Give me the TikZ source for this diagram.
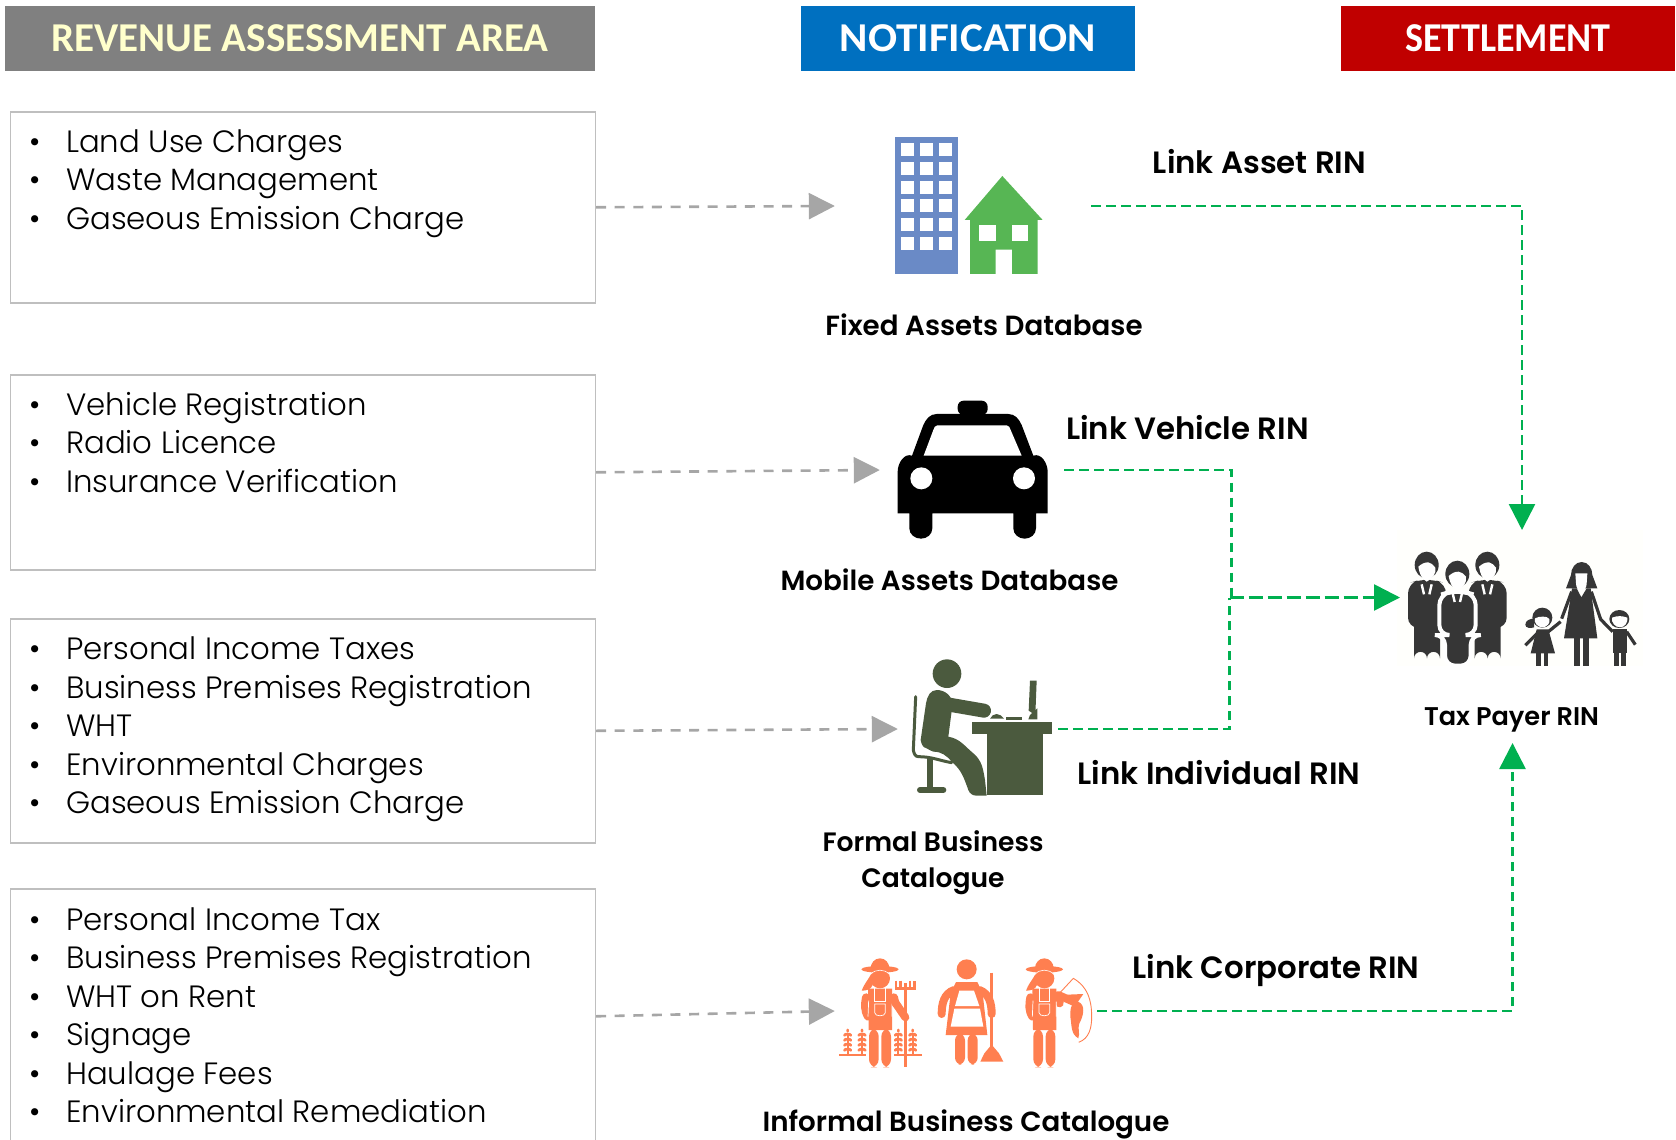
\documentclass[tikz,border=0pt]{standalone}
\usepackage{fontspec}
\setmainfont{Poppins}[UprightFont=* Light,BoldFont=* SemiBold]
\newfontfamily\headfont{Carlito}[BoldFont=* Bold]
\usetikzlibrary{arrows.meta}
\definecolor{hdgray}{HTML}{808080}
\definecolor{hdblue}{HTML}{0070C0}
\definecolor{hdred}{HTML}{C00000}
\definecolor{hdtext}{HTML}{FFFFCC}
\definecolor{boxline}{HTML}{BFBFBF}
\definecolor{arrgray}{HTML}{A6A6A6}
\definecolor{arrgreen}{HTML}{00B050}
\definecolor{towerblue}{HTML}{6A8AC6}
\definecolor{housegreen}{HTML}{57B654}
\definecolor{deskgreen}{HTML}{4B5A3E}
\definecolor{workorange}{HTML}{FF7F50}
\definecolor{peopledark}{HTML}{363636}
\newcommand{\itm}[1]{\makebox[37pt][l]{•}#1}
\tikzset{
  header/.style={minimum height=65pt,inner sep=0pt,font=\headfont\bfseries\fontsize{41}{43}\selectfont},
  listbox/.style={draw=boxline,line width=1.6pt,fill=white,anchor=north west,inner sep=0pt},
  listtext/.style={anchor=north west,inner sep=0pt,align=left,font=\fontsize{30.8}{38.5}\selectfont},
  boldlabel/.style={inner sep=0pt,align=center,font=\bfseries\fontsize{27.7}{36}\selectfont},
  linklabel/.style={inner sep=0pt,font=\bfseries\fontsize{30.8}{32}\selectfont},
  grayflow/.style={draw=arrgray,line width=2.6pt,dash pattern=on 10pt off 8.6pt,-{Triangle[length=26pt,width=26pt,fill=arrgray]}},
  greenline/.style={draw=arrgreen,line width=2.6pt,dash pattern=on 9.5pt off 5.5pt},
  greenflow/.style={greenline,-{Triangle[length=26pt,width=26pt,fill=arrgreen]}},
  icon/.style={inner sep=0pt,minimum size=1pt},
  man/.pic={
    \fill[peopledark] (0,0) ellipse[x radius=36,y radius=40];
    \fill[peopledark,rounded corners=10] (-56,55) -- (-20,44) -- (20,44) -- (58,55) -- (58,188) -- (-56,188) -- cycle;
    \fill[peopledark] (-38,180) -- (40,180) -- (40,280) arc[start angle=0,end angle=-180,radius=19.5] -- (1,280) arc[start angle=0,end angle=-180,radius=19.5] -- cycle;
    \fill[white] (-25,5) to[out=40,in=180] (5,-8) to[out=0,in=140] (26,8) to[out=-80,in=30] (0,50) to[out=150,in=-80] cycle;
    \draw[white,line width=2.4pt] (-15,58) -- (-8,88) (15,58) -- (8,88);
  },
  farmerbody/.pic={
    \fill[workorange] (0,988) ellipse[x radius=56,y radius=10];
    \fill[workorange] (-28,985) to[out=90,in=180] (0,955) to[out=0,in=90] (28,985) -- cycle;
    \fill[workorange] (0,1015) circle[radius=30];
    \draw[white,line width=.6pt] (-28,1003) to[out=50,in=130] (28,1003);
    \fill[workorange] (-28,1005) to[out=-120,in=70] (-55,1052) to[out=0,in=-110] (-22,1035) -- cycle;
    \draw[workorange,line width=8pt,line cap=round] (-42,1072) to[out=-100,in=120] (-36,1130);
    \draw[workorange,line width=8pt,line cap=round] (42,1072) -- (46,1090);
    \fill[workorange] (-36,1046) -- (36,1046) -- (36,1170) -- (-34,1170) -- cycle;
    \draw[white,line width=.7pt] (-34,1082) -- (-36,1130) (36,1085) -- (36,1130);
    \fill[workorange,rounded corners=8] (-33,1165) rectangle (-4,1282);
    \fill[workorange,rounded corners=8] (4,1165) rectangle (33,1282);
    \draw[white,line width=.7pt] (-16,1042) -- (-16,1085) -- (16,1085) -- (16,1042);
    \draw[white,line width=.7pt] (-16,1092) -- (-16,1118) to[out=-90,in=-90] (16,1118) -- (16,1092) -- cycle;
  },
  wheat/.pic={
    \draw[workorange,line width=2.2pt] (0,1245) -- (0,1180);
    \foreach \yy in {1184,1199,1214,1229}{
      \fill[workorange,rotate around={35:(-7,\yy)}] (-7,\yy) ellipse[x radius=7,y radius=4.6];
      \fill[workorange,rotate around={-35:(7,\yy)}] (7,\yy) ellipse[x radius=7,y radius=4.6];
    }
    \fill[workorange] (0,1172) ellipse[x radius=4,y radius=6];
  }
}
\begin{document}
\begin{tikzpicture}[x=1pt,y=-1pt]
\useasboundingbox (0,0) rectangle (1676,1140);
\clip (0,0) rectangle (1676,1140);

% headers
\node[header,fill=hdgray,text=hdtext,minimum width=590pt] (hd1) at (300,38.5) {REVENUE ASSESSMENT AREA};
\node[header,fill=hdblue,text=white,minimum width=334pt] (hd2) at (968,38.5) {\scalebox{1.05}[1]{NOTIFICATION}};
\node[header,fill=hdred,text=white,minimum width=334pt] (hd3) at (1508,38.5) {\scalebox{.93}[1]{SETTLEMENT}};

% boxes
\node[listbox,minimum width=585pt,minimum height=191pt] (box1) at (9.5,111) {};
\node[listbox,minimum width=585pt,minimum height=195pt] (box2) at (9.5,374) {};
\node[listbox,minimum width=585pt,minimum height=224pt] (box3) at (9.5,618) {};
\node[listbox,minimum width=585pt,minimum height=255pt] (box4) at (9.5,888) {};

\node[listtext] (list1) at (29,129.5) {\itm{Land Use Charges}\\\itm{Waste Management}\\\itm{Gaseous Emission Charge}};
\node[listtext] (list2) at (29,392) {\itm{Vehicle Registration}\\\itm{Radio Licence}\\\itm{Insurance Verification}};
\node[listtext] (list3) at (29,636.5) {\itm{Personal Income Taxes}\\\itm{Business Premises  Registration}\\\itm{WHT}\\\itm{Environmental Charges}\\\itm{Gaseous Emission Charge}};
\node[listtext] (list4) at (29,907) {\itm{Personal Income Tax}\\\itm{Business Premises  Registration}\\\itm{WHT on Rent}\\\itm{Signage}\\\itm{Haulage Fees}\\\itm{Environmental Remediation}};

% icon extents (connector anchors)
\node[icon,minimum width=256pt,minimum height=150pt] (fixedicon) at (963,206) {};
\node[icon,minimum width=184pt,minimum height=150pt] (caricon) at (972,470) {};
\node[icon,minimum width=160pt,minimum height=150pt] (deskicon) at (978,729) {};
\node[icon,minimum width=262pt,minimum height=120pt] (workicon) at (966,1011) {};
\coordinate (tpleft) at (1400,597.5);
\coordinate (tptop) at (1522,530);
\coordinate (tpbottom) at (1512.5,743);
\coordinate (joinA) at (1231.5,597.5);
\coordinate (joinB) at (1229.5,597.5);

% tower and house
\begin{scope}[shift={(820,110)},x=1/3*1pt,y=-1/3*1pt]
  \fill[towerblue] (224,80) rectangle (415,492);
  \foreach \yy in {98,155,212,268,324,380}
    \foreach \xx in {243,300,357}
      \fill[white] (\xx,\yy) rectangle +(39,39);
  \fill[housegreen] (547,198) -- (668,330) -- (653,330) -- (653,492) -- (576,492) -- (576,419) -- (527,419) -- (527,492) -- (450,492) -- (450,330) -- (434,330) -- cycle;
  \fill[white] (478,344) rectangle (527,393);
  \fill[white] (576,344) rectangle (625,393);
  % car
  \fill[black,rounded corners=6] (413,915) -- (413,872) -- (503,872) -- (503,915) -- cycle;
  \fill[black] (350,912) -- (565,912) to[out=0,in=115] (605,945) -- (640,1037) to[out=20,in=90] (683,1085) -- (683,1210) -- (648,1210) -- (648,1255) to[out=-90,in=0] (614,1286) to[out=180,in=-90] (580,1255) -- (580,1210) -- (337,1210) -- (337,1255) to[out=-90,in=0] (303,1286) to[out=180,in=-90] (268,1255) -- (268,1210) -- (233,1210) -- (233,1085) to[out=90,in=160] (276,1037) -- (310,945) to[out=65,in=180] cycle;
  \fill[white] (311,1037) -- (340,960) to[out=70,in=180] (352,946) -- (560,946) to[out=0,in=110] (572,960) -- (605,1037) -- cycle;
  \fill[white] (304,1105) circle[radius=33];
  \fill[white] (612,1105) circle[radius=33];
\end{scope}

% person at desk
\begin{scope}[shift={(800,640)},x=1/3*1pt,y=-1/3*1pt]
  \fill[deskgreen] (441,101) circle[radius=43];
  \draw[deskgreen,line width=14pt,line cap=round] (425,190) -- (552,212);
  \fill[deskgreen] (410,150) to[out=180,in=80] (378,190) -- (362,300) to[out=-80,in=170] (380,325) to[out=-10,in=180] (400,335) to[out=0,in=130] (455,365) to[out=-40,in=110] (505,450) to[out=-70,in=180] (530,467) -- (560,467) -- (555,420) to[out=100,in=-40] (520,340) to[out=140,in=-10] (445,290) -- (458,190) to[out=100,in=0] cycle;
  \draw[deskgreen,line width=3pt,line cap=round] (347,170) -- (340,330) to[out=-80,in=180] (355,350) to[out=0,in=170] (455,368);
  \draw[deskgreen,line width=6pt] (390,350) -- (390,445);
  \draw[deskgreen,line width=6pt,line cap=round] (360,450) -- (430,450);
  \fill[deskgreen] (517,245) rectangle (755,283);
  \fill[deskgreen] (560,283) rectangle (730,465);
  \fill[deskgreen] (690,122) -- (710,122) -- (706,225) -- (686,212) -- cycle;
  \fill[deskgreen] (570,236) to[out=60,in=180] (590,222) to[out=0,in=130] (612,236) -- cycle;
  \fill[deskgreen] (618,232) rectangle (665,240);
  \fill[deskgreen] (690,225) -- (712,205) -- (712,238) -- (685,238) -- cycle;
  % workers
  \pic at (240,0) {farmerbody};
  \draw[workorange,line width=8pt,line cap=round] (284,1085) -- (316,1132);
  \draw[workorange,line width=3pt] (315,1030) -- (315,1280);
  \draw[workorange,line width=2.4pt] (288,1022) -- (288,1045) -- (344,1045) -- (344,1022) (302,1022) -- (302,1045) (330,1022) -- (330,1045);
  \pic at (143,0) {wheat};
  \pic at (186,0) {wheat};
  \pic at (295,0) {wheat};
  \pic at (338,0) {wheat};
  \draw[workorange,line width=2.6pt] (117,1245) -- (198,1245) (282,1245) -- (365,1245);
  % woman with broom
  \fill[workorange] (500,988) circle[radius=30];
  \draw[workorange,line width=8pt,line cap=round] (462,1050) to[out=-160,in=90] (425,1122);
  \draw[workorange,line width=8pt,line cap=round] (538,1050) to[out=-20,in=90] (575,1122);
  \fill[workorange] (468,1026) -- (532,1026) -- (548,1060) -- (562,1185) -- (437,1185) -- (452,1060) -- cycle;
  \fill[white] (478,1052) -- (522,1052) -- (538,1098) -- (465,1098) -- cycle;
  \fill[white] (463,1106) -- (540,1106) -- (550,1160) -- (452,1160) -- cycle;
  \fill[workorange,rounded corners=7] (465,1180) rectangle (495,1274);
  \fill[workorange,rounded corners=7] (503,1180) rectangle (533,1274);
  \draw[workorange,line width=3pt] (575,998) -- (575,1220);
  \fill[workorange] (575,1214) -- (597,1240) -- (610,1265) -- (541,1265) -- (553,1240) -- cycle;
  % fisher
  \pic at (733,0) {farmerbody};
  \draw[workorange,line width=8pt,line cap=round] (775,1065) -- (820,1085);
  \fill[workorange] (802,1064) -- (850,1062) -- (834,1085) to[out=-20,in=60] (838,1150) to[out=-110,in=70] (835,1195) to[out=150,in=-80] (811,1130) to[out=90,in=-150] (826,1085) -- cycle;
  \draw[workorange,line width=.9pt] (780,1058) -- (820,1015) to[out=-30,in=90] (875,1130) to[out=-90,in=20] (836,1207);
\end{scope}

% people
\begin{scope}[shift={(1380,520)},x=1/3*1pt,y=-1/3*1pt]
  \fill[white!99!yellow] (50,30) rectangle (790,437);
  \pic at (140,135) {man};
  \pic at (322,135) {man};
  % middle man with a white outline
  \draw[white,line width=4pt,fill=peopledark,rounded corners=10] (178,225) -- (212,215) -- (252,215) -- (287,225) -- (287,345) -- (272,345) -- (272,437) -- (195,437) -- (195,345) -- (178,345) -- cycle;
  \fill[peopledark] (232,162) ellipse[x radius=36,y radius=40];
  \fill[white] (206,168) to[out=40,in=180] (236,155) to[out=0,in=140] (258,170) to[out=-80,in=30] (232,212) to[out=150,in=-80] cycle;
  \draw[white,line width=2.4pt] (218,220) -- (224,246) (246,220) -- (240,246);
  % woman
  \fill[peopledark] (573,165) to[out=90,in=180] (605,126) to[out=0,in=90] (637,165) -- (652,205) -- (558,205) -- cycle;
  \fill[white] (586,160) -- (622,160) -- (620,190) to[out=-90,in=0] (604,212) to[out=180,in=-90] (588,190) -- cycle;
  \fill[peopledark] (590,205) -- (604,232) -- (620,205) -- (632,205) -- (652,355) -- (552,355) -- (576,205) -- cycle;
  \draw[peopledark,line width=3.2pt] (575,215) -- (545,296) (634,215) -- (662,298) -- (698,335);
  \fill[peopledark] (583,350) rectangle (600,437);
  \fill[peopledark] (610,350) rectangle (628,437);
  % girl
  \fill[peopledark] (487,293) circle[radius=30];
  \fill[peopledark] (462,296) to[out=180,in=90] (436,314) to[out=-90,in=200] (462,322) -- cycle;
  \fill[white] (465,295) to[out=30,in=180] (490,290) to[out=0,in=130] (508,297) to[out=-70,in=0] (487,322) to[out=180,in=-110] cycle;
  \fill[peopledark] (470,328) -- (505,328) -- (525,400) -- (452,400) -- cycle;
  \draw[peopledark,line width=3.2pt] (472,340) -- (436,376) (505,335) -- (542,305);
  \fill[peopledark] (469,395) rectangle (482,437);
  \fill[peopledark] (491,395) rectangle (504,437);
  % boy
  \fill[peopledark] (718,297) ellipse[x radius=30,y radius=27];
  \fill[white] (696,293) to[out=20,in=160] (742,293) to[out=-80,in=0] (720,322) to[out=180,in=-100] cycle;
  \fill[peopledark] (698,328) -- (742,328) -- (742,398) -- (698,398) -- cycle;
  \draw[peopledark,line width=3.2pt] (740,335) -- (766,374);
  \fill[peopledark] (703,393) rectangle (716,437);
  \fill[peopledark] (724,393) rectangle (737,437);
\end{scope}

% labels
\node[boldlabel] (lblfixed) at (984,325) {Fixed Assets Database};
\node[boldlabel] (lblmobile) at (949.5,580) {Mobile Assets Database};
\node[boldlabel,font=\bfseries\fontsize{26.6}{36}\selectfont] (lblformal) at (933,863) {Formal Business\\Catalogue};
\node[boldlabel] (lblinformal) at (966,1124) {Informal Business Catalogue};
\node[boldlabel,font=\bfseries\fontsize{25.6}{30}\selectfont] (lbltax) at (1511.5,720) {Tax Payer RIN};
\node[linklabel] (lnkasset) at (1259.5,162) {Link Asset RIN};
\node[linklabel] (lnkvehicle) at (1187.5,428) {Link Vehicle RIN};
\node[linklabel] (lnkindiv) at (1219,773) {Link Individual RIN};
\node[linklabel] (lnkcorp) at (1276,970) {Link Corporate RIN};

% connectors
\draw[grayflow] (box1.east) -- (fixedicon.west);
\draw[grayflow] (box2.east) -- (caricon.west);
\draw[grayflow] (box3.east) -- (deskicon.west);
\draw[grayflow] (box4.east) -- (workicon.west);
\draw[greenflow] (fixedicon.east) -| (tptop);
\draw[greenline] (caricon.east) -| (joinA);
\draw[greenline] (deskicon.east) -| (joinB);
\draw[greenflow,dash pattern=on 14pt off 5pt] (joinB) -- (tpleft);
\draw[greenflow] (workicon.east) -| (tpbottom);
\end{tikzpicture}
\end{document}
